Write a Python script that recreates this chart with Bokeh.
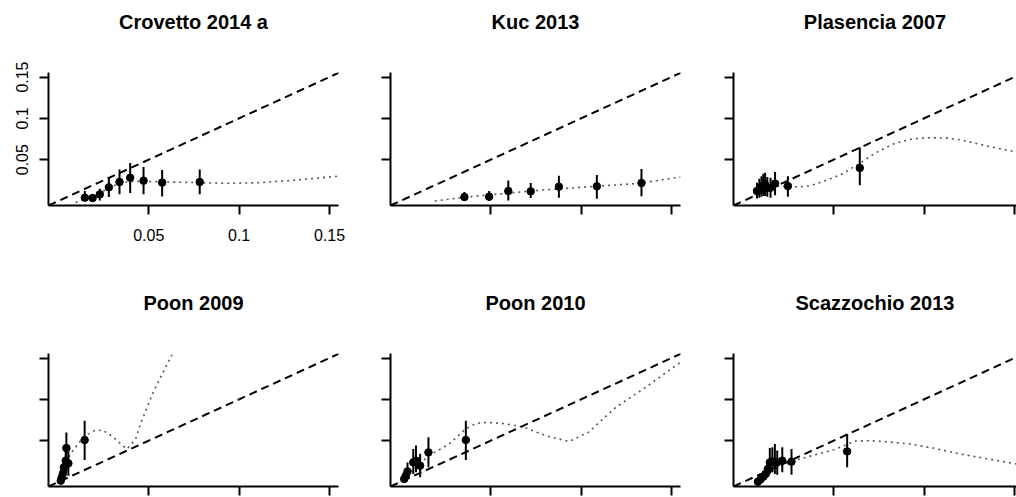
from bokeh.plotting import figure
from bokeh.layouts import column, row
from bokeh.models import FixedTicker, Slope, ColumnDataSource, Title
from bokeh.embed import file_html
from bokeh.resources import INLINE

titles = ["Crovetto 2014 a", "Kuc 2013", "Plasencia 2007",
          "Poon 2009", "Poon 2010", "Scazzochio 2013"]
tick_values = [0.05, 0.1, 0.15]
tick_labels = ["0.05", "0.1", "0.15"]

# Crovetto 2014 a
crovetto_x = [0.0146, 0.0189, 0.0229, 0.0279, 0.0338, 0.0397, 0.0471, 0.0574, 0.0782]
crovetto_y = [0.0040, 0.0035, 0.0080, 0.0165, 0.0229, 0.0282, 0.0246, 0.0222, 0.0229]
crovetto_lo = [0.0, 0.0, 0.0007, 0.0048, 0.0080, 0.0096, 0.0080, 0.0055, 0.0080]
crovetto_hi = [0.0120, 0.0080, 0.0149, 0.0282, 0.0380, 0.0460, 0.0411, 0.0376, 0.0380]
crovetto_cx = [0.0095, 0.015, 0.02, 0.025, 0.03, 0.035, 0.04, 0.05, 0.06, 0.07, 0.08,
               0.09, 0.10, 0.11, 0.12, 0.13, 0.14, 0.15, 0.155]
crovetto_cy = [-0.002, 0.003, 0.006, 0.012, 0.018, 0.022, 0.0235, 0.0235, 0.023, 0.0225,
               0.022, 0.0215, 0.0215, 0.022, 0.0235, 0.025, 0.027, 0.029, 0.030]

# Kuc 2013
kuc_x = [0.0354, 0.0491, 0.0597, 0.0721, 0.0877, 0.1087, 0.1334]
kuc_y = [0.0047, 0.0052, 0.0120, 0.0116, 0.0173, 0.0177, 0.0217]
kuc_lo = [0.0, 0.0, 0.0007, 0.0035, 0.0040, 0.0028, 0.0056]
kuc_hi = [0.0108, 0.0120, 0.0249, 0.0217, 0.0306, 0.0314, 0.0386]
kuc_cx = [0.019, 0.03, 0.04, 0.05, 0.06, 0.07, 0.08, 0.09, 0.10, 0.11, 0.12, 0.13, 0.14, 0.155]
kuc_cy = [0.0, 0.003, 0.0055, 0.0075, 0.0095, 0.0115, 0.0135, 0.015, 0.0165, 0.018,
          0.0195, 0.021, 0.024, 0.029]

# Plasencia 2007
plasencia_x = [0.0075, 0.0088, 0.0100, 0.0110, 0.0120, 0.0132, 0.0150, 0.0175, 0.0246, 0.0644]
plasencia_y = [0.012, 0.014, 0.017, 0.019, 0.020, 0.016, 0.016, 0.021, 0.018, 0.040]
plasencia_lo = [0.003, 0.004, 0.005, 0.006, 0.006, 0.005, 0.004, 0.007, 0.005, 0.019]
plasencia_hi = [0.022, 0.027, 0.030, 0.033, 0.034, 0.029, 0.028, 0.035, 0.030, 0.065]
plasencia_cx = [0.012, 0.018, 0.025, 0.031, 0.038, 0.046, 0.054, 0.064, 0.073, 0.083,
                0.093, 0.103, 0.113, 0.12, 0.13, 0.138, 0.147, 0.155]
plasencia_cy = [0.016, 0.018, 0.0175, 0.017, 0.019, 0.025, 0.032, 0.045, 0.058, 0.069,
                0.075, 0.0765, 0.076, 0.074, 0.069, 0.065, 0.061, 0.058]

# Poon 2009
poon09_x = [0.0013, 0.0018, 0.0025, 0.0030, 0.0040, 0.0044, 0.0055, 0.0145]
poon09_y = [0.0016, 0.0056, 0.0104, 0.0177, 0.0258, 0.0410, 0.0225, 0.0508]
poon09_lo = [0.0, 0.002, 0.004, 0.009, 0.012, 0.0116, 0.0076, 0.0266]
poon09_hi = [0.004, 0.010, 0.017, 0.027, 0.038, 0.060, 0.037, 0.0742]
poon09_cx = [0.004, 0.0077, 0.0141, 0.0206, 0.025, 0.030, 0.035, 0.038, 0.0427, 0.0454,
             0.049, 0.0528, 0.058, 0.0629]
poon09_cy = [0.024, 0.037, 0.055, 0.063, 0.062, 0.055, 0.045, 0.040, 0.052, 0.070,
             0.090, 0.110, 0.133, 0.154]

# Poon 2010
poon10_x = [0.0021, 0.0030, 0.0039, 0.0071, 0.0086, 0.0109, 0.0155, 0.0362]
poon10_y = [0.0036, 0.0076, 0.0128, 0.0237, 0.0258, 0.0197, 0.0358, 0.0508]
poon10_lo = [0.0, 0.002, 0.0036, 0.0097, 0.0116, 0.0056, 0.0177, 0.0266]
poon10_hi = [0.008, 0.015, 0.0237, 0.040, 0.044, 0.034, 0.054, 0.0742]
poon10_cx = [0.003, 0.0159, 0.027, 0.036, 0.042, 0.048, 0.056, 0.0675, 0.0804, 0.0933,
             0.104, 0.119, 0.1356, 0.155]
poon10_cy = [0.0076, 0.032, 0.046, 0.064, 0.071, 0.072, 0.071, 0.067, 0.056, 0.049,
             0.060, 0.090, 0.1145, 0.145]

# Scazzochio 2013
scazz_x = [0.0080, 0.0095, 0.0110, 0.0123, 0.0135, 0.0146, 0.0160, 0.0174, 0.0187, 0.0215, 0.0266, 0.0574]
scazz_y = [0.0004, 0.0031, 0.0064, 0.0097, 0.0157, 0.0237, 0.0249, 0.0237, 0.0237, 0.0258, 0.0246, 0.0370]
scazz_lo = [0.0, 0.0, 0.002, 0.004, 0.008, 0.0097, 0.0116, 0.0097, 0.0088, 0.0116, 0.0088, 0.0177]
scazz_hi = [0.004, 0.008, 0.013, 0.017, 0.024, 0.041, 0.042, 0.046, 0.038, 0.042, 0.040, 0.058]
scazz_cx = [0.0091, 0.0276, 0.040, 0.050, 0.057, 0.062, 0.070, 0.080, 0.092, 0.105, 0.1196, 0.135, 0.151]
scazz_cy = [0.0056, 0.0258, 0.033, 0.039, 0.045, 0.0495, 0.050, 0.0485, 0.046, 0.041, 0.034, 0.028, 0.0218]

panels = [
    (crovetto_x, crovetto_y, crovetto_lo, crovetto_hi, crovetto_cx, crovetto_cy),
    (kuc_x, kuc_y, kuc_lo, kuc_hi, kuc_cx, kuc_cy),
    (plasencia_x, plasencia_y, plasencia_lo, plasencia_hi, plasencia_cx, plasencia_cy),
    (poon09_x, poon09_y, poon09_lo, poon09_hi, poon09_cx, poon09_cy),
    (poon10_x, poon10_y, poon10_lo, poon10_hi, poon10_cx, poon10_cy),
    (scazz_x, scazz_y, scazz_lo, scazz_hi, scazz_cx, scazz_cy),
]

FONT = "Liberation Sans"
X_START = -0.0055
Y_RANGE = (-0.0055, 0.1555)
PX_PER_UNIT = 290 / (0.155 - X_START)

# column geometry: (figure width, left border, right border, frame width)
col_geo = [(363, 48, 25, 290), (342, 27, 25, 290), (311, 28, 0, 283)]
# row geometry: (figure height, top border, bottom border)
row_geo = [(281, 72, 76), (216, 72, 11)]


def make_panel(idx):
    r, c = divmod(idx, 3)
    fw, bl, br, frw = col_geo[c]
    fh, bt, bb = row_geo[r]
    x_end = X_START + frw / PX_PER_UNIT
    xs, ys, lo, hi, cx, cy = panels[idx]
    p = figure(width=fw, height=fh, x_range=(X_START, x_end), y_range=Y_RANGE,
               output_backend="svg", toolbar_location=None, title_location=None,
               min_border_left=bl, min_border_right=br,
               min_border_top=bt, min_border_bottom=bb)
    p.outline_line_color = None
    p.grid.visible = False
    p.background_fill_color = "white"
    p.border_fill_color = "white"

    # spacer between frame and title (added first -> nearest to frame)
    p.add_layout(Title(text=" ", text_font_size="2px", standoff=36), "above")
    p.add_layout(Title(text=titles[idx], text_font=FONT, text_font_size="20px",
                       text_font_style="bold", align="center", text_color="black",
                       standoff=0), "above")

    overrides = dict(zip(tick_values, tick_labels))
    for ax in (p.xaxis[0], p.yaxis[0]):
        ax.ticker = FixedTicker(ticks=tick_values)
        ax.major_label_overrides = overrides
        ax.axis_line_width = 2
        ax.axis_line_color = "black"
        ax.major_tick_line_width = 2
        ax.major_tick_line_color = "black"
        ax.major_tick_out = 9
        ax.major_tick_in = 0
        ax.minor_tick_line_color = None
        ax.major_label_text_font = FONT
        ax.major_label_text_font_size = "16px"
        ax.major_label_text_color = "black"
    p.yaxis.major_label_orientation = "vertical"
    p.xaxis.major_label_standoff = 14
    p.yaxis.major_label_standoff = 11
    if idx != 0:
        p.xaxis.major_label_text_color = None
        p.yaxis.major_label_text_color = None
        p.xaxis.major_label_standoff = 0
        p.yaxis.major_label_standoff = 0

    p.add_layout(Slope(gradient=1, y_intercept=0, line_color="black",
                       line_width=2, line_dash="8 5"))

    p.line(cx, cy, line_color="#555555", line_width=1.6, line_dash="2 4")

    src = ColumnDataSource(dict(x=xs, y=ys, lo=lo, hi=hi))
    p.segment(x0="x", y0="lo", x1="x", y1="hi", source=src,
              line_color="black", line_width=2)
    p.scatter("x", "y", source=src, size=7.5, fill_color="black", line_color="black")
    return p


figs = [make_panel(i) for i in range(6)]
layout = column(row(*figs[:3]), row(*figs[3:]))
open("out.html", "w").write(file_html(layout, INLINE))
